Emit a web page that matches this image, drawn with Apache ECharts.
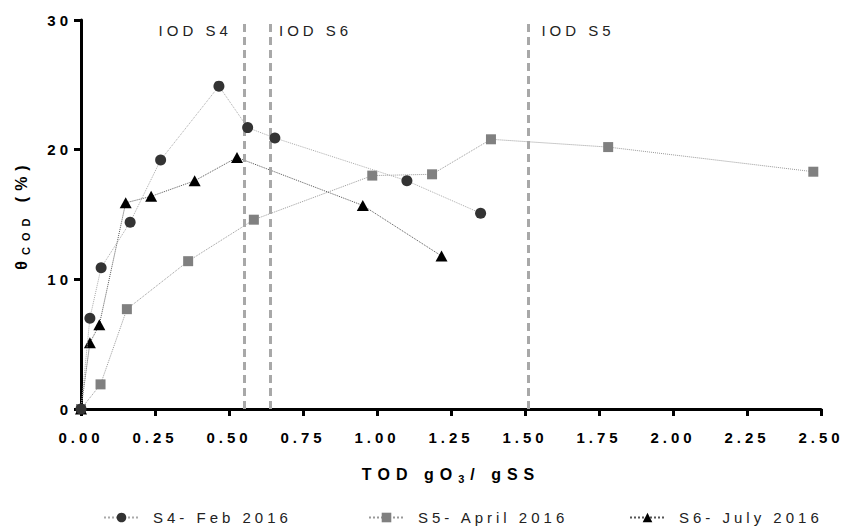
<!DOCTYPE html>
<html>
<head>
<meta charset="utf-8">
<script src="https://cdn.jsdelivr.net/npm/echarts@6/dist/echarts.min.js"></script>
<style>
  html, body { margin: 0; padding: 0; background: #fff; }
  #chart { width: 842px; height: 526px; }
</style>
</head>
<body>
<div id="chart"></div>
<script>
// Ozone dose (TOD) vs. COD removal for three sampling campaigns
const seriesNames = ['S4- Feb 2016', 'S5- April 2016', 'S6- July 2016'];

const s4Tod = [0, 0.030, 0.068, 0.166, 0.269, 0.466, 0.563, 0.655, 1.101, 1.350];
const s4Cod = [0, 7.0, 10.9, 14.4, 19.2, 24.9, 21.7, 20.9, 17.6, 15.1];

const s5Tod = [0, 0.066, 0.155, 0.362, 0.584, 0.984, 1.186, 1.385, 1.781, 2.474];
const s5Cod = [0, 1.9, 7.7, 11.4, 14.6, 18.0, 18.1, 20.8, 20.2, 18.3];

const s6Tod = [0, 0.030, 0.062, 0.151, 0.237, 0.384, 0.527, 0.952, 1.218];
const s6Cod = [0, 5.1, 6.5, 15.9, 16.4, 17.6, 19.4, 15.7, 11.8];

// Immediate ozone demand markers
const iodNames = ['IOD S4', 'IOD S6', 'IOD S5'];
const iodTod = [0.550, 0.635, 1.515];

// Axis ticks
const xTickLabels = ['0.00', '0.25', '0.50', '0.75', '1.00', '1.25', '1.50', '1.75', '2.00', '2.25', '2.50'];
const yTickLabels = ['0', '10', '20', '30'];

// Axis titles: [main, subscript, main]
const xNameParts = ['TOD gO', '3', '/ gSS'];
const yNameParts = ['θ', 'COD', ' (%)'];

const FONT = "'Liberation Sans', Arial, sans-serif";
const TITLE_FONT = "'Liberation Sans', Arimo, sans-serif";
const LS = 4;   // letter spacing of labels, px
const LS_T = 6; // letter spacing of axis titles (built from per-glyph padding), px

document.head.insertAdjacentHTML('beforeend',
  '<style>#chart svg text{letter-spacing:' + LS + 'px}' +
  '#chart svg text[style*="Arimo"]{letter-spacing:0}</style>');

const zip = (xs, ys) => xs.map((x, i) => [x, ys[i]]);
const xMin = Number(xTickLabels[0]);
const xMax = Number(xTickLabels[xTickLabels.length - 1]);
const xStep = Number(xTickLabels[1]) - xMin;
const yMax = Number(yTickLabels[yTickLabels.length - 1]);
const yStep = Number(yTickLabels[1]);

// every glyph becomes its own rich token so the spacing is part of the layout
function richName(parts) {
  const tok = (style, s) => Array.from(s).map(ch => '{' + style + '|' + ch + '}').join('');
  return tok('m', parts[0]) + tok('s', parts[1]) + tok('m', parts[2]);
}
function richStyles(size, subSize) {
  const base = { fontWeight: 'bold', fontFamily: TITLE_FONT, color: '#000' };
  return {
    m: Object.assign({}, base, { fontSize: size, lineHeight: size + 4, verticalAlign: 'middle',
         padding: [0, LS_T, 0, 0] }),
    s: Object.assign({}, base, { fontSize: subSize, lineHeight: subSize, verticalAlign: 'bottom',
         padding: [6, LS_T, 0, 0] })
  };
}

const axisLineStyle = { color: '#000', width: 3 };

const chart = echarts.init(document.getElementById('chart'), null, { renderer: 'svg' });

const lineSeries = (name, data, symbol, size, color, lineColor, z) => ({
  name, type: 'line', data, symbol, symbolSize: size,
  itemStyle: { color },
  lineStyle: { color: lineColor, width: 1, type: 'dotted' },
  emphasis: { disabled: true },
  z
});

const s5 = lineSeries(seriesNames[1], zip(s5Tod, s5Cod), 'rect', 10, '#808080', '#999', 3);
s5.markLine = {
  silent: true,
  symbol: ['none', 'none'],
  label: { show: false },
  lineStyle: { type: [8, 5], color: '#a8a8a8', width: 3 },
  data: iodTod.map(x => ({ xAxis: x }))
};
s5.markPoint = {
  silent: true,
  symbol: 'circle',
  symbolSize: 0,
  data: iodTod.map((x, i) => ({
    name: iodNames[i],
    coord: [x, 29.2],
    label: {
      show: true,
      formatter: iodNames[i],
      position: i === 0 ? 'left' : 'right',
      distance: i === 0 ? 12 : (i === 1 ? 10 : 12),
      fontSize: 15, color: '#222', fontFamily: FONT
    }
  }))
};

chart.setOption({
  animation: false,
  backgroundColor: '#fff',
  grid: { left: 81, right: 21, top: 20, bottom: 117 },
  xAxis: {
    type: 'value', min: xMin, max: xMax, interval: xStep,
    axisLine: { lineStyle: axisLineStyle },
    axisTick: { length: 7, lineStyle: axisLineStyle },
    splitLine: { show: false },
    axisLabel: {
      margin: 21, fontSize: 15, fontWeight: 'bold', color: '#000', fontFamily: FONT,
      formatter: (v) => xTickLabels[Math.round((v - xMin) / xStep)]
    },
    name: richName(xNameParts),
    nameLocation: 'middle',
    nameGap: 55,
    nameTextStyle: { rich: richStyles(16, 11) }
  },
  yAxis: {
    type: 'value', min: 0, max: yMax, interval: yStep,
    axisLine: { show: true, lineStyle: axisLineStyle },
    axisTick: { show: true, length: 7, lineStyle: axisLineStyle },
    splitLine: { show: false },
    axisLabel: {
      margin: 9, fontSize: 15, fontWeight: 'bold', color: '#000', fontFamily: FONT,
      formatter: (v) => yTickLabels[Math.round(v / yStep)]
    },
    name: richName(yNameParts),
    nameLocation: 'middle',
    nameGap: 50,
    nameTextStyle: { rich: richStyles(16, 11) }
  },
  legend: seriesNames.map((n, i) => ({
    data: [n],
    left: [98, 363, 624][i],
    top: 505,
    itemWidth: 35,
    itemHeight: 12,
    textStyle: { fontSize: 15, color: '#222', fontFamily: FONT, padding: [0, 0, 0, 9] },
    selectedMode: false
  })),
  series: [
    s5,
    lineSeries(seriesNames[2], zip(s6Tod, s6Cod), 'triangle', [12, 11], '#000', '#555', 4),
    lineSeries(seriesNames[0], zip(s4Tod, s4Cod), 'circle', 11, '#333', '#aaa', 5)
  ]
});
</script>
</body>
</html>
